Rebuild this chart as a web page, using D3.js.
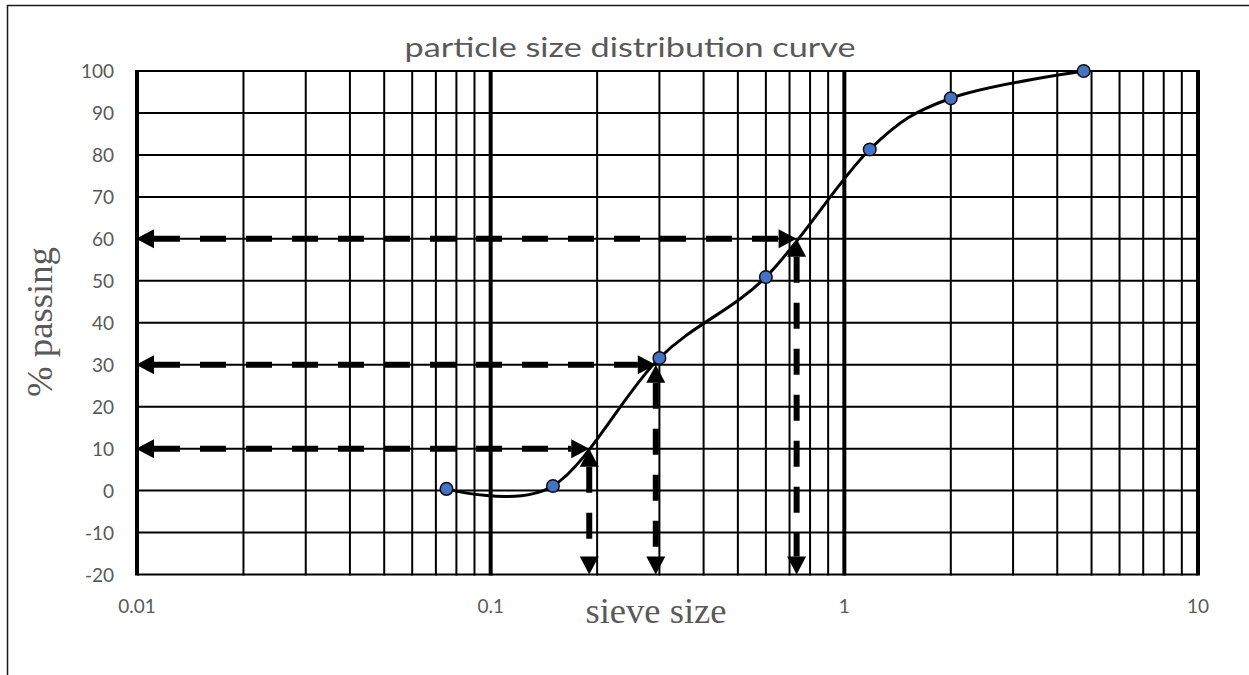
<!DOCTYPE html>
<html>
<head>
<meta charset="utf-8">
<script src="https://cdn.jsdelivr.net/npm/d3@7"></script>
<style>
  body { margin: 0; background: #fff; }
  svg { display: block; }
  .tick-label { font-family: Lato, "Open Sans", sans-serif; font-size: 19px; fill: #595959; }
  .axis-title { font-family: "Liberation Serif", "DejaVu Serif", serif; font-size: 36px; fill: #595959; }
  .title { font-family: Lato, "Open Sans", sans-serif; font-size: 27px; fill: #595959; }
</style>
</head>
<body>
<svg id="chart" width="1249" height="675"></svg>
<script>
// sieve analysis data
let sieveSizes = [ 0.075, 0.15, 0.3, 0.6, 1.18, 2.0, 4.75 ];
let percentPassing = [ 0.4, 1.1, 31.6, 50.9, 81.3, 93.5, 100 ];

// D10, D30, D60 read-off lines
let dLevels = [ 10, 30, 60 ];
let dSizes = [ 0.19, 0.293, 0.733 ];

let yTicks = [ -20, -10, 0, 10, 20, 30, 40, 50, 60, 70, 80, 90, 100 ];
let xTickLabels = [ 0.01, 0.1, 1, 10 ];

let svg = d3.select( "#chart" );

// Step 1: Scales
// ==============================================
let x = d3.scaleLog().domain( [ 0.01, 10 ] ).range( [ 137, 1198 ] );
let y = d3.scaleLinear().domain( [ -20, 100 ] ).range( [ 574.5, 71 ] );

// outer frame (top + left only)
svg.append( "path" )
  .attr( "d", "M7.5,675 L7.5,5.5 L1249,5.5" )
  .attr( "fill", "none" )
  .attr( "stroke", "#1a1a1a" )
  .attr( "stroke-width", 1.5 );

// Step 2: Grid
// ==============================================
let isDecade = v => Math.abs( Math.log10( v ) - Math.round( Math.log10( v ) ) ) < 1e-9;

svg.append( "g" )
  .selectAll( "line" )
  .data( yTicks )
  .enter().append( "line" )
  .attr( "x1", x( 0.01 ) )
  .attr( "x2", x( 10 ) )
  .attr( "y1", d => y( d ) )
  .attr( "y2", d => y( d ) )
  .attr( "stroke", "#000" )
  .attr( "stroke-width", 2 );

svg.append( "g" )
  .selectAll( "line" )
  .data( x.ticks() )
  .enter().append( "line" )
  .attr( "x1", d => x( d ) )
  .attr( "x2", d => x( d ) )
  .attr( "y1", y( 100 ) - 1 )
  .attr( "y2", y( -20 ) + 1 )
  .attr( "stroke", "#000" )
  .attr( "stroke-width", d => isDecade( d ) ? 4 : 2 );

// Step 3: Tick labels
// ==============================================
svg.append( "g" )
  .selectAll( "text" )
  .data( yTicks )
  .enter().append( "text" )
  .attr( "class", "tick-label" )
  .attr( "x", 114 )
  .attr( "y", d => y( d ) + 7 )
  .attr( "text-anchor", "end" )
  .text( d => d );

svg.append( "g" )
  .selectAll( "text" )
  .data( xTickLabels )
  .enter().append( "text" )
  .attr( "class", "tick-label" )
  .attr( "x", d => x( d ) )
  .attr( "y", 613 )
  .attr( "text-anchor", "middle" )
  .text( d => d );

// Step 4: Titles
// ==============================================
svg.append( "text" )
  .attr( "class", "title" )
  .attr( "x", 630 )
  .attr( "y", 57 )
  .attr( "text-anchor", "middle" )
  .attr( "textLength", 451 )
  .attr( "lengthAdjust", "spacingAndGlyphs" )
  .text( "particle size distribution curve" );

svg.append( "text" )
  .attr( "class", "axis-title" )
  .attr( "x", 656 )
  .attr( "y", 623 )
  .attr( "text-anchor", "middle" )
  .attr( "textLength", 141 )
  .attr( "lengthAdjust", "spacingAndGlyphs" )
  .text( "sieve size" );

svg.append( "text" )
  .attr( "class", "axis-title" )
  .attr( "transform", "translate(52, 322) rotate(-90)" )
  .attr( "text-anchor", "middle" )
  .attr( "textLength", 150 )
  .attr( "lengthAdjust", "spacingAndGlyphs" )
  .text( "% passing" );

// Step 5: D-value arrows
// ==============================================
let headLen = 18, headHalf = 9.5;
let arrows = svg.append( "g" );

dLevels.forEach( ( lvl, i ) => {
  let yl = y( lvl );
  let x0 = x( 0.01 ) - 1;
  let xd = x( dSizes[ i ] );
  let yb = y( -20 );

  // horizontal, left <-> right
  arrows.append( "line" )
    .attr( "x1", x0 + headLen ).attr( "x2", xd - headLen )
    .attr( "y1", yl ).attr( "y2", yl )
    .attr( "stroke", "#000" )
    .attr( "stroke-width", 6 )
    .attr( "stroke-dasharray", "26,20" );
  arrows.append( "path" )
    .attr( "d", `M${x0},${yl} L${x0 + headLen},${yl - headHalf} L${x0 + headLen},${yl + headHalf} Z` );
  arrows.append( "path" )
    .attr( "d", `M${xd},${yl} L${xd - headLen},${yl - headHalf} L${xd - headLen},${yl + headHalf} Z` );

  // vertical, level <-> bottom
  arrows.append( "line" )
    .attr( "x1", xd ).attr( "x2", xd )
    .attr( "y1", yl + headLen ).attr( "y2", yb - headLen )
    .attr( "stroke", "#000" )
    .attr( "stroke-width", 6 )
    .attr( "stroke-dasharray", "26,20" );
  arrows.append( "path" )
    .attr( "d", `M${xd},${yl} L${xd - headHalf},${yl + headLen} L${xd + headHalf},${yl + headLen} Z` );
  arrows.append( "path" )
    .attr( "d", `M${xd},${yb} L${xd - headHalf},${yb - headLen} L${xd + headHalf},${yb - headLen} Z` );
} );
arrows.selectAll( "path" ).attr( "fill", "#000" );

// Step 6: Curve + points
// ==============================================
let points = sieveSizes.map( ( s, i ) => ( { size: s, pass: percentPassing[ i ] } ) );

let line = d3.line()
  .x( d => x( d.size ) )
  .y( d => y( d.pass ) )
  .curve( d3.curveCardinal.tension( 0 ) );

svg.append( "path" )
  .datum( points )
  .attr( "d", line )
  .attr( "fill", "none" )
  .attr( "stroke", "#000" )
  .attr( "stroke-width", 3 );

svg.append( "g" )
  .selectAll( "circle" )
  .data( points )
  .enter().append( "circle" )
  .attr( "cx", d => x( d.size ) )
  .attr( "cy", d => y( d.pass ) )
  .attr( "r", 6.3 )
  .attr( "fill", "#4472C4" )
  .attr( "stroke", "#0d0d0d" )
  .attr( "stroke-width", 1.5 );
</script>
</body>
</html>
